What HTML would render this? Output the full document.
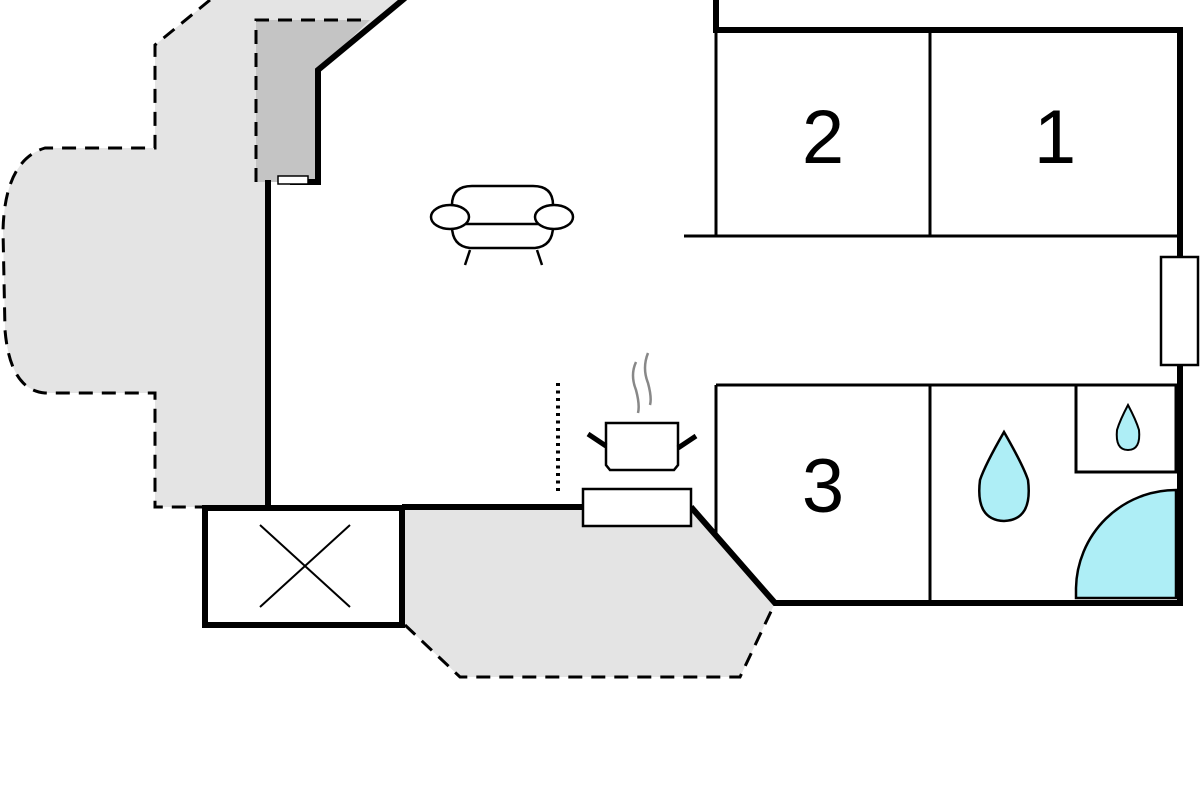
<!DOCTYPE html>
<html><head><style>html,body{margin:0;padding:0;background:#fff;width:1200px;height:800px;overflow:hidden}</style></head>
<body>
<svg width="1200" height="800" viewBox="0 0 1200 800" xmlns="http://www.w3.org/2000/svg">
<path d="M210,0 L155,45 L155,148 L45,148 Q5,160 3,230 L5,330 Q10,390 45,393 L155,393 L155,507 L268,507 L268,182 L318,182 L318,70 L405,0 Z" fill="#e4e4e4"/>
<path d="M210,0 L155,45 L155,148 L45,148 Q5,160 3,230 L5,330 Q10,390 45,393 L155,393 L155,507 L205,507" fill="none" stroke="#000" stroke-width="3" stroke-dasharray="14,9"/>
<path d="M256,182 L256,20 L370,20 L318,70 L318,182 Z" fill="#c4c4c4"/>
<path d="M256,182 L256,20 L370,20" fill="none" stroke="#000" stroke-width="3" stroke-dasharray="14,9"/>
<path d="M405,512 L405,625 L460,677 L740,677 L775,603 L691,507 L405,507 Z" fill="#e4e4e4"/>
<path d="M405,625 L460,677 L740,677 L775,603" fill="none" stroke="#000" stroke-width="3" stroke-dasharray="14,9"/>
<g fill="none" stroke="#000" stroke-width="6" stroke-linejoin="miter">
<path d="M405,-2 L318,70 L318,182 L290,182"/>
<path d="M268,180 L268,507"/>
<rect x="205" y="508" width="197" height="117"/>
<path d="M402,507 L583,507"/>
<path d="M691,507 L775,603 L1180,603 L1180,30 L716,30 L716,0"/>
</g>
<rect x="278" y="176" width="30" height="8" fill="#fff" stroke="#000" stroke-width="1.5"/>
<path d="M260,525 L350,607 M350,525 L260,607" stroke="#000" stroke-width="2"/>
<rect x="583" y="489" width="108" height="37" fill="#fff" stroke="#000" stroke-width="2.5"/>
<rect x="1161" y="257" width="37" height="108" fill="#fff" stroke="#000" stroke-width="2.5"/>
<g fill="none" stroke="#000" stroke-width="3">
<path d="M716,30 L716,236 M930,30 L930,236 M684,236 L1180,236"/>
<path d="M716,385 L1180,385 M716,385 L716,536 M930,385 L930,603"/>
<rect x="1076" y="385" width="100" height="87"/>
</g>
<path d="M1076,598 L1076,588 A100,100 0 0 1 1176,490 L1176,598 Z" fill="#aeeef6" stroke="#000" stroke-width="2.5"/>
<g font-family="Liberation Sans, sans-serif" font-size="76" text-anchor="middle" fill="#000">
<text x="823" y="163">2</text><text x="1055" y="163">1</text><text x="823" y="512">3</text>
</g>
<path d="M1004,432 Q985,465 980,480 Q975,520 1004,521 Q1033,520 1028,480 Q1023,465 1004,432 Z" fill="#aeeef6" stroke="#000" stroke-width="2.5"/>
<path d="M1128,405 Q1120,420 1117,430 Q1115,450 1128,450 Q1141,450 1139,430 Q1136,420 1128,405 Z" fill="#aeeef6" stroke="#000" stroke-width="2"/>
<g fill="#fff" stroke="#000" stroke-width="2.5">
<path d="M470,248 Q452,246 452,226 L452,205 Q452,186 472,186 L533,186 Q553,186 553,205 L553,226 Q553,246 535,248 Z"/>
<path d="M452,224 L553,224" fill="none"/>
<ellipse cx="450" cy="217" rx="19" ry="12"/>
<ellipse cx="554" cy="217" rx="19" ry="12"/>
<path d="M470,250 L465,265 M537,250 L542,265" fill="none"/>
</g>
<path d="M558,383 L558,494" stroke="#000" stroke-width="4" stroke-dasharray="3,4.5"/>
<path d="M606,423 L678,423 L678,465 L674,470 L610,470 L606,465 Z" fill="#fff" stroke="#000" stroke-width="2.5"/>
<path d="M588,434 L606,446 M696,436 L678,448" stroke="#000" stroke-width="5"/>
<path d="M636,362 Q630,375 636,390 Q640,405 638,413 M648,353 Q642,368 648,383 Q652,398 650,405" fill="none" stroke="#888" stroke-width="2.5"/>
</svg>
</body></html>
